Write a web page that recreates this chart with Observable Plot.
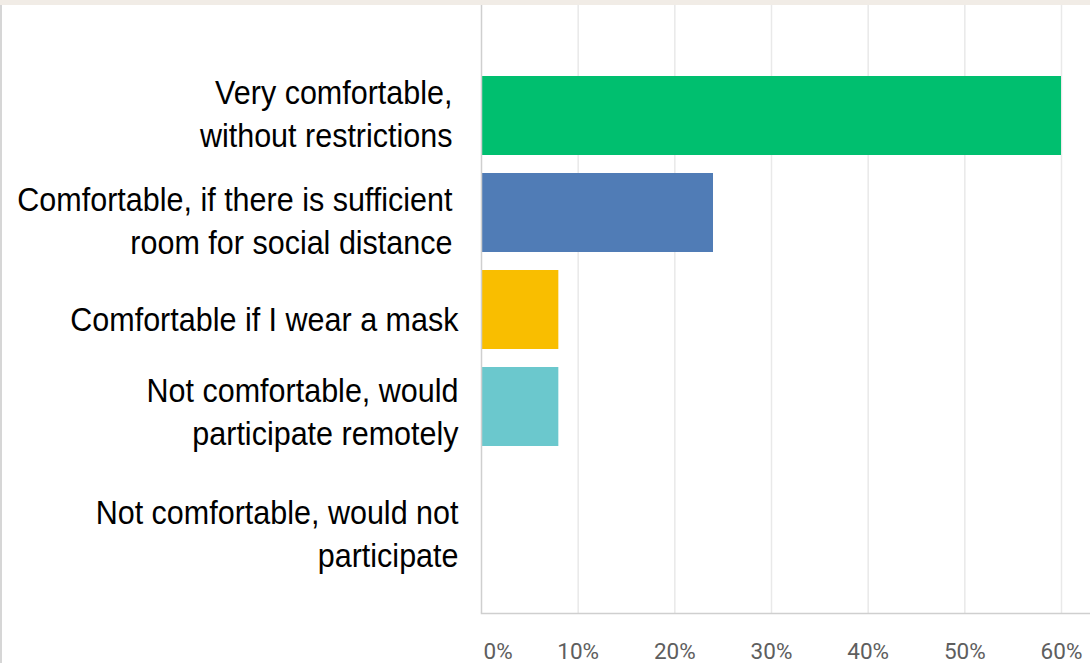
<!DOCTYPE html>
<html>
<head>
<meta charset="utf-8">
<script src="https://cdn.jsdelivr.net/npm/d3@7"></script>
<script src="https://cdn.jsdelivr.net/npm/@observablehq/plot@0.6"></script>
<style>
  html, body { margin: 0; padding: 0; }
  body {
    width: 1090px; height: 663px; overflow: hidden; position: relative;
    background: linear-gradient(#f1ece6 0 5px, #ffffff 5px);
    font-family: "Liberation Sans", Arimo, Arial, sans-serif;
  }
  #edge { position: absolute; left: 0; top: 5px; width: 2px; height: 658px; background: #d6d6d6; }
  #chart { position: absolute; left: 0; top: 0; }
</style>
</head>
<body>
<div id="chart"></div>
<div id="edge"></div>
<script>
// ---- data ----
const categories = [
  "Very comfortable,\nwithout restrictions",
  "Comfortable, if there is sufficient\nroom for social distance",
  "Comfortable if I wear a mask",
  "Not comfortable, would\nparticipate remotely",
  "Not comfortable, would not\nparticipate"
];
const values = [60, 24, 8, 8, 0];
const colors = ["#00BF6F", "#507CB6", "#F9BE00", "#6BC8CD", "#9E9E9E"];
const xTicks = [0, 10, 20, 30, 40, 50, 60];
const xTickLabels = ["0%", "10%", "20%", "30%", "40%", "50%", "60%"];

// ---- layout (styles only) ----
const labelDy = [-4, 6, 7, 3, 28];
const labelDx = [-29, -29, -23, -23, -23];
const labelFont = "'Liberation Sans', Arimo, Arial, sans-serif";
const squeeze = 0.925;

const rows = categories.map((c, i) => ({category: c, value: values[i], color: colors[i], i}));
const tickRows = xTicks.map((t, i) => ({t, label: xTickLabels[i]}));

const labelMarks = rows.map((r) =>
  Plot.text([r], {
    y: "category",
    text: "category",
    frameAnchor: "left",
    textAnchor: "end",
    lineAnchor: "middle",
    lineHeight: 1.3,
    dx: labelDx[r.i],
    dy: labelDy[r.i],
    fontSize: 33,
    fontFamily: labelFont,
    fill: "#000"
  })
);

const chart = Plot.plot({
  width: 1090,
  height: 663,
  marginLeft: 481,
  marginRight: 0,
  marginTop: 5,
  marginBottom: 50,
  style: {background: "transparent", fontFamily: labelFont},
  x: {domain: [0, 63], axis: null},
  y: {domain: categories, paddingInner: 0.186, paddingOuter: 0.727, axis: null},
  marks: [
    Plot.ruleX(xTicks.slice(1), {stroke: "#e9e9e9", strokeWidth: 1.5}),
    Plot.barX(rows, {y: "category", x: "value", fill: "color"}),
    Plot.ruleX([0], {stroke: "#cfcfcf", strokeWidth: 1.5}),
    Plot.frame({anchor: "bottom", stroke: "#cfcfcf", strokeWidth: 1.5}),
    ...labelMarks,
    Plot.text(tickRows.slice(0, 1), {
      x: "t", text: "label", frameAnchor: "bottom", textAnchor: "start",
      dx: 2, dy: 38, lineAnchor: "middle", fontSize: 22.5, fill: "#5e5e5e",
      fontFamily: "Roboto, sans-serif"
    }),
    Plot.text(tickRows.slice(1), {
      x: "t", text: "label", frameAnchor: "bottom", textAnchor: "middle",
      dy: 38, lineAnchor: "middle", fontSize: 22.5, fill: "#5e5e5e",
      fontFamily: "Roboto, sans-serif"
    })
  ]
});

// horizontally condense the category labels around the frame's left edge
const ax = 481;
const catText = new Set(categories.map((c) => c.replace(/\n/g, "")));
chart.querySelectorAll("text").forEach((t) => {
  if (!catText.has(t.textContent.replace(/\n/g, ""))) return;
  const wrap = document.createElementNS("http://www.w3.org/2000/svg", "g");
  wrap.setAttribute("transform", `translate(${ax},0) scale(${squeeze},1) translate(${-ax},0)`);
  t.parentNode.insertBefore(wrap, t);
  wrap.appendChild(t);
});

document.getElementById("chart").appendChild(chart);
</script>
</body>
</html>
